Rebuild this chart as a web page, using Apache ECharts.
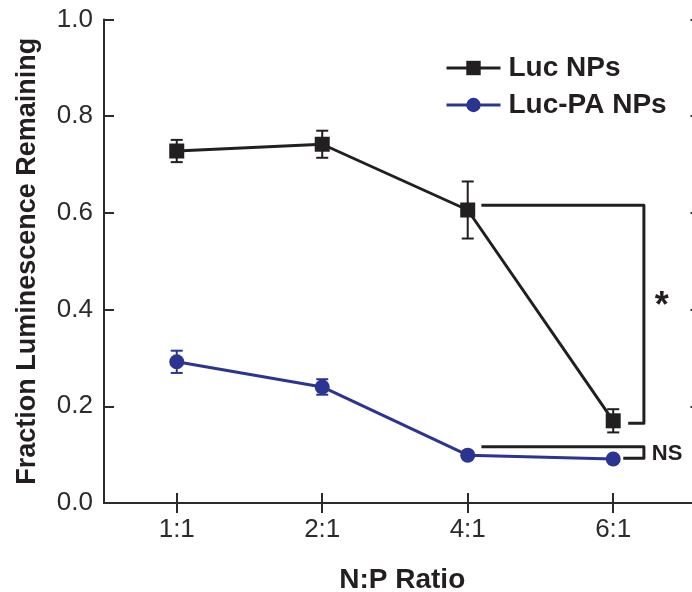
<!DOCTYPE html>
<html>
<head>
<meta charset="utf-8">
<script src="https://cdn.jsdelivr.net/npm/echarts@6/dist/echarts.min.js"></script>
<style>html,body{margin:0;padding:0;background:#fff;overflow:hidden}#c{width:692px;height:592px}</style>
</head>
<body>
<div id="c"></div>
<script>
var categories = ['1:1', '2:1', '4:1', '6:1'];
var catPos = [1, 2, 3, 4];
var lucMean = [0.728, 0.742, 0.606, 0.170];
var lucErr = [0.023, 0.028, 0.059, 0.024];
var paMean = [0.292, 0.240, 0.099, 0.091];
var paErr = [0.023, 0.016, 0.006, 0.006];
var yTicks = ['0.0', '0.2', '0.4', '0.6', '0.8', '1.0'];

var BLACK = '#231f20';
var BLUE = '#2b3591';
var FONT = "'Liberation Sans', Arial, Helvetica, sans-serif";

function pairs(means) { return catPos.map(function (x, i) { return [x, means[i]]; }); }
function errData(means, errs) { return catPos.map(function (x, i) { return [x, means[i] - errs[i], means[i] + errs[i]]; }); }

function errRender(color) {
  return function (params, api) {
    var lo = api.coord([api.value(0), api.value(1)]);
    var hi = api.coord([api.value(0), api.value(2)]);
    var w = 6;
    var st = { stroke: color, lineWidth: 2 };
    return { type: 'group', children: [
      { type: 'line', shape: { x1: lo[0], y1: lo[1], x2: hi[0], y2: hi[1] }, style: st },
      { type: 'line', shape: { x1: lo[0] - w, y1: lo[1], x2: lo[0] + w, y2: lo[1] }, style: st },
      { type: 'line', shape: { x1: hi[0] - w, y1: hi[1], x2: hi[0] + w, y2: hi[1] }, style: st }
    ]};
  };
}

// significance brackets, in data coordinates
var brackets = [
  { x0: 3.094, x1: 4.211, xb: 4.103, yt: 0.616, yb: 0.165, label: '*', lx: 4.333, ly: 0.405, size: 36 },
  { x0: 3.094, x1: 4.211, xb: 4.069, yt: 0.1165, yb: 0.0925, label: 'NS', lx: 4.37, ly: 0.101, size: 22 }
];

var chart = echarts.init(document.getElementById('c'), null, { renderer: 'canvas' });

var axisLineStyle = { color: '#2b2b2b', width: 2 };

chart.setOption({
  animation: false,
  backgroundColor: '#fff',
  textStyle: { fontFamily: FONT },
  grid: { left: 104, top: 19.5, width: 596.5, height: 483.5, containLabel: false, outerBoundsMode: 'none' },
  legend: {
    orient: 'vertical',
    left: 445,
    top: 54,
    padding: 0,
    itemWidth: 54,
    itemHeight: 18,
    itemGap: 9,
    lineStyle: { width: 3 },
    textStyle: { fontFamily: FONT, fontSize: 28, fontWeight: 'bold', color: BLACK, padding: [0, 0, 0, 3] },
    data: ['Luc NPs', 'Luc-PA NPs']
  },
  xAxis: [{
    type: 'value', min: 0.5, max: 4.6, position: 'bottom',
    splitLine: { show: false },
    axisLine: { show: true, lineStyle: axisLineStyle },
    axisTick: { show: true, inside: true, length: 10, lineStyle: axisLineStyle, customValues: catPos },
    axisLabel: { show: true, customValues: catPos, fontSize: 26, color: '#2b2b2b', fontFamily: FONT, margin: 14,
      formatter: function (v) { var i = catPos.indexOf(v); return i >= 0 ? categories[i] : ''; } },
    name: 'N:P Ratio', nameLocation: 'middle', nameGap: 63, nameMoveOverlap: false,
    nameTextStyle: { fontSize: 28, fontWeight: 'bold', color: BLACK, fontFamily: FONT }
  }, {
    type: 'value', min: 0.5, max: 4.6, position: 'top',
    splitLine: { show: false },
    axisLine: { show: true, lineStyle: axisLineStyle },
    axisTick: { show: true, inside: true, length: 10, lineStyle: axisLineStyle, customValues: catPos },
    axisLabel: { show: false }
  }],
  yAxis: [{
    type: 'value', min: 0, max: 1, interval: 0.2, position: 'left',
    splitLine: { show: false },
    axisLine: { show: true, lineStyle: axisLineStyle },
    axisTick: { show: true, inside: true, length: 10, lineStyle: axisLineStyle },
    axisLabel: { fontSize: 26, color: '#2b2b2b', fontFamily: FONT, margin: 11,
      formatter: function (v) { return yTicks[Math.round(v / 0.2)]; } },
    name: 'Fraction Luminescence Remaining', nameLocation: 'middle', nameGap: 63, nameMoveOverlap: false,
    nameTextStyle: { fontSize: 27, fontWeight: 'bold', color: BLACK, fontFamily: FONT }
  }, {
    type: 'value', min: 0, max: 1, interval: 0.2, position: 'right',
    splitLine: { show: false },
    axisLine: { show: true, lineStyle: axisLineStyle },
    axisTick: { show: true, inside: true, length: 10, lineStyle: axisLineStyle },
    axisLabel: { show: false }
  }],
  series: [
    { type: 'custom', name: 'lucErr', xAxisIndex: 0, yAxisIndex: 0, renderItem: errRender(BLACK),
      data: errData(lucMean, lucErr), z: 3, silent: true },
    { type: 'custom', name: 'paErr', xAxisIndex: 0, yAxisIndex: 0, renderItem: errRender(BLUE),
      data: errData(paMean, paErr), z: 3, silent: true },
    { type: 'line', name: 'Luc NPs', data: pairs(lucMean), symbol: 'rect', symbolSize: 15,
      itemStyle: { color: BLACK }, lineStyle: { color: BLACK, width: 3 }, z: 4 },
    { type: 'line', name: 'Luc-PA NPs', data: pairs(paMean), symbol: 'circle', symbolSize: 15,
      itemStyle: { color: BLUE }, lineStyle: { color: BLUE, width: 3 }, z: 4 },
    { type: 'custom', name: 'brackets', silent: true, z: 5,
      data: brackets.map(function (b, i) { return [i]; }),
      renderItem: function (params, api) {
        var b = brackets[params.dataIndex];
        var p0 = api.coord([b.x0, b.yt]);
        var p1 = api.coord([b.x1, b.yt]);
        var p2 = api.coord([b.x1, b.yb]);
        var p3 = api.coord([b.xb, b.yb]);
        var pl = api.coord([b.lx, b.ly]);
        return { type: 'group', children: [
          { type: 'polyline', shape: { points: [p0, p1, p2, p3] },
            style: { stroke: BLACK, lineWidth: 3, fill: null, lineJoin: 'round' } },
          { type: 'text', x: pl[0], y: pl[1],
            style: { text: b.label, fontSize: b.size, fontWeight: 'bold', fontFamily: FONT, fill: BLACK,
              align: 'center', verticalAlign: 'middle' } }
        ]};
      }
    }
  ]
});
</script>
</body>
</html>
